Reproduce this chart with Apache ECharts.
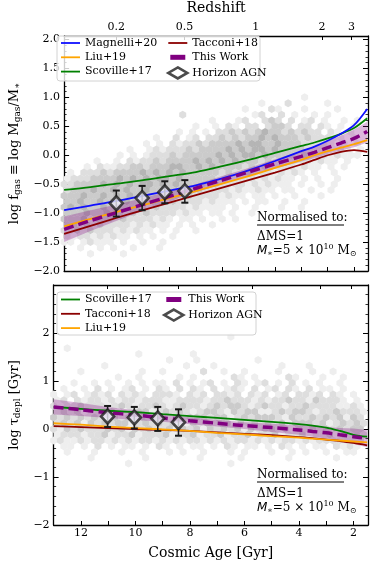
<!DOCTYPE html>
<html>
<head>
<meta charset="utf-8">
<script src="https://cdn.jsdelivr.net/npm/echarts@6/dist/echarts.min.js"></script>
<style>
html, body { margin: 0; padding: 0; background: #fff; }
#chart { width: 374px; height: 561px; }
</style>
</head>
<body>
<div id="chart"></div>
<script>
// cosmic age samples (Gyr) for the relations
var ages = [13, 12, 11, 10, 9, 8, 7, 6, 5, 4, 3.5, 3, 2.5, 2, 1.5];

// top panel: log f_gas
var fgasMagnelli = [-0.95, -0.87, -0.79, -0.70, -0.61, -0.52, -0.40, -0.26, -0.10, 0.07, 0.15, 0.25, 0.37, 0.52, 0.80];
var fgasLiu      = [-1.23, -1.10, -0.98, -0.86, -0.74, -0.62, -0.49, -0.36, -0.22, -0.08, 0.00, 0.07, 0.13, 0.19, 0.26];
var fgasScoville = [-0.60, -0.55, -0.49, -0.43, -0.36, -0.29, -0.19, -0.08, 0.04, 0.16, 0.22, 0.29, 0.37, 0.47, 0.64];
var fgasTacconi  = [-1.36, -1.22, -1.08, -0.95, -0.82, -0.69, -0.56, -0.43, -0.30, -0.16, -0.08, 0.00, 0.06, 0.09, 0.06];
var fgasThisWork = [-1.28, -1.13, -0.99, -0.85, -0.71, -0.57, -0.43, -0.29, -0.15, -0.02, 0.05, 0.13, 0.21, 0.29, 0.41];
var fgasBandLow  = [-1.50, -1.31, -1.13, -0.96, -0.80, -0.64, -0.50, -0.36, -0.23, -0.11, -0.05, 0.02, 0.08, 0.14, 0.22];
var fgasBandHigh = [-1.06, -0.95, -0.85, -0.74, -0.62, -0.50, -0.36, -0.22, -0.07, 0.07, 0.15, 0.24, 0.34, 0.44, 0.58];

// bottom panel: log tau_depl
var tdepScoville = [0.46, 0.42, 0.38, 0.35, 0.31, 0.27, 0.23, 0.19, 0.15, 0.10, 0.07, 0.03, -0.04, -0.12, -0.16];
var tdepTacconi  = [0.06, 0.04, 0.02, 0.00, -0.02, -0.04, -0.07, -0.10, -0.13, -0.17, -0.19, -0.22, -0.25, -0.29, -0.34];
var tdepLiu      = [0.12, 0.09, 0.05, 0.02, -0.01, -0.04, -0.08, -0.11, -0.15, -0.18, -0.20, -0.22, -0.24, -0.26, -0.28];
var tdepThisWork = [0.46, 0.40, 0.34, 0.29, 0.23, 0.17, 0.12, 0.07, 0.03, -0.02, -0.05, -0.08, -0.12, -0.16, -0.20];
var tdepBandLow  = [0.30, 0.27, 0.23, 0.19, 0.15, 0.10, 0.05, 0.00, -0.06, -0.12, -0.16, -0.20, -0.25, -0.31, -0.38];
var tdepBandHigh = [0.62, 0.54, 0.46, 0.39, 0.31, 0.24, 0.19, 0.14, 0.11, 0.08, 0.06, 0.04, 0.02, 0.01, -0.02];

// Horizon AGN
var agnAges    = [11.02, 10.04, 9.18, 8.42];
var agnFgas    = [-0.83, -0.74, -0.64, -0.62];
var agnFgasLo  = [-1.06, -0.95, -0.83, -0.82];
var agnFgasHi  = [-0.61, -0.53, -0.45, -0.43];
var agnTdep    = [0.26, 0.24, 0.22, 0.14];
var agnTdepLo  = [0.04, 0.01, -0.04, -0.14];
var agnTdepHi  = [0.48, 0.46, 0.46, 0.41];

// tick labels
var redshiftLabels = ['0.2', '0.5', '1', '2', '3'];
var redshiftAges   = [11.02, 8.43, 5.73, 3.22, 2.10];
var ageTicks       = [2, 3, 4, 5, 6, 7, 8, 9, 10, 11, 12, 13];
var ageLabels      = [2, 4, 6, 8, 10, 12];

// hexbin density (shade 1-4), rows listed from the highest value down
var hexTopRows = [
    '....................................1',
    '..............................1...2.....1',
    '...........................1...21...1....1',
    '..................2..........12..2.1..1.1',
    '......................1...12..232.2.12.1..1.1',
    '....................1..1.21.22.2332.22.21.1.1',
    '.................1.1.1.2232323433232322.21.1',
    '..............1..2.12.223232334343332322211.1',
    '............1.1.2122323333434433433322221.1.1',
    '..........1..1212223233334343443433332222121.1',
    '........1.1.122232333334343443433332322212111',
    '.....1..1.21223233334343434333232322221211.1',
    '...1.2112233233344334343333232322221211.1.1',
    '.1.2223233334343434333332322322212121.1..1',
    '12223333434343443433333232222121211.1.1..1',
    '22333343434344343433332322221212111.1..1.1',
    '23334334343343343332322221211211.11..1..1',
    '3334334343434333332322221211.11.1..1...1',
    '33433434343333323222212111.1.11..1..1',
    '3434334333333232222121111.1..1...1..1',
    '333433433232322221211.11.1..1',
    '33342333232222121.11.1..1.1',
    '3323232222121211.1.1..1',
    '22323222121211.1.1..1',
    '2122121211.1.1..1',
    '11.12111.1..1..1',
    '..1..1.1..1...1',
    '....1....1',
    '',
    ''
];
var hexBottomRows = [
    '..........................1',
    '',
    '..1',
    '............1.......1',
    '.................1...1........1',
    '.......1...........1...1.........1...1',
    '....1........1..1.....2..1..1....1....1..1',
    '.........1..1.....1.1.....21.1....21...1..1',
    '...1..1.1..1.1.11.2.1.12.1.21.12.1.2.1.1..1',
    '.1..1.2.1.12.1.21.2.21.2.121.2.12.21.2.11.1',
    '1.12.1212.2121.2221.212.2212.212.12.2212.21.1',
    '12.2122121221222112222122322212122322132221.1',
    '2122322212321223212322123233212322122322221121',
    '2323122331123312323212332132331123233212232221',
    '3232323213232323213233323312323332132232323132',
    '2323132323312323232132323313232323133323123232',
    '2132322232313232231323132323132332313232323233',
    '1222122312231222312231223122312231223122313232',
    '1211212212121221212122121212212121221212222222',
    '.11.1.2.1.11.1.21.1.11.1.21.11.1.21.1.11.2121',
    '..1...1...1..1...1.1..1...1.1...1..1.1..1..11',
    '.....1.......1.......1.....1......1......1',
    '...........1..............1'
];
var shadeColors = ['#ffffff', '#eeeeee', '#dedede', '#cbcbcb', '#b5b5b5'];

var FONT = 'DejaVu Serif';

function hexCells(rows, v0, dv) {
    var out = [];
    var n = rows.length;
    rows.forEach(function (row, i) {
        var r = n - 1 - i;
        for (var c = 0; c < row.length; c++) {
            var ch = row.charAt(c);
            if (ch === '.') continue;
            out.push([13 - 0.25 * c - (r % 2 ? 0.125 : 0), v0 + dv * r, +ch]);
        }
    });
    return out;
}

function pairs(vals) {
    return ages.map(function (a, i) { return [a, vals[i]]; });
}

function minus(s) { return String(s).replace('-', '\u2212'); }

var HEX = 'path://M0,-1L0.866,-0.5L0.866,0.5L0,1L-0.866,0.5L-0.866,-0.5Z';
var LINE_ICON = 'path://M0,0L21,0L21,2L0,2Z';
var DASH_ICON = 'path://M0,0M2,3L17,3L17,8L2,8ZM19,11';

function hexSeries(rows, v0, dv, xi, yi) {
    return {
        type: 'scatter', xAxisIndex: xi, yAxisIndex: yi, silent: true, z: 1,
        symbol: HEX, symbolSize: [7, 8],
        itemStyle: { color: function (p) { return shadeColors[p.value[2]]; }, opacity: 1 },
        data: hexCells(rows, v0, dv)
    };
}

function line(name, vals, color, xi, yi, extra) {
    var s = {
        name: name, type: 'line', xAxisIndex: xi, yAxisIndex: yi, z: 4,
        smooth: 0.3, symbol: 'none', silent: true,
        lineStyle: { color: color, width: 1.8 },
        itemStyle: { color: color },
        data: pairs(vals)
    };
    if (extra) for (var k in extra) s[k] = extra[k];
    return s;
}

// shaded uncertainty band of "This Work", drawn as one polygon in data coordinates
function band(lo, hi, xi, yi) {
    return {
        type: 'custom', xAxisIndex: xi, yAxisIndex: yi, z: 3, silent: true, clip: true,
        data: [[ages[0], lo[0]]],
        renderItem: function (params, api) {
            var pts = [];
            ages.forEach(function (a, i) { pts.push(api.coord([a, hi[i]])); });
            for (var i = ages.length - 1; i >= 0; i--) pts.push(api.coord([ages[i], lo[i]]));
            return {
                type: 'polygon', shape: { points: pts },
                style: { fill: 'rgba(128,0,128,0.28)' }
            };
        }
    };
}

function errorBars(lo, hi, xi, yi) {
    return {
        type: 'custom', xAxisIndex: xi, yAxisIndex: yi, z: 6, silent: true,
        data: agnAges.map(function (a, i) { return [a, lo[i], hi[i]]; }),
        renderItem: function (params, api) {
            var a = api.coord([api.value(0), api.value(1)]);
            var b = api.coord([api.value(0), api.value(2)]);
            var cap = 3.5;
            return {
                type: 'group', children: [
                    { type: 'line', shape: { x1: a[0], y1: a[1], x2: b[0], y2: b[1] }, style: { stroke: '#1a1a1a', lineWidth: 1.5 } },
                    { type: 'line', shape: { x1: a[0] - cap, y1: a[1], x2: a[0] + cap, y2: a[1] }, style: { stroke: '#1a1a1a', lineWidth: 2 } },
                    { type: 'line', shape: { x1: b[0] - cap, y1: b[1], x2: b[0] + cap, y2: b[1] }, style: { stroke: '#1a1a1a', lineWidth: 2 } }
                ]
            };
        }
    };
}

function agn(vals, xi, yi) {
    return {
        name: 'Horizon AGN', type: 'scatter', xAxisIndex: xi, yAxisIndex: yi, z: 7, silent: true,
        symbol: 'diamond', symbolSize: [13, 14],
        itemStyle: { color: '#ececf6', borderColor: '#1e1e1e', borderWidth: 2.6 },
        data: agnAges.map(function (a, i) { return [a, vals[i]]; })
    };
}

var axisLineStyle = { show: true, onZero: false, lineStyle: { color: '#000', width: 1.3 } };

function ageAxis(grid, pos, tickVals, labelVals, fmt, name) {
    return {
        type: 'value', gridIndex: grid, position: pos, min: 1.47, max: 13, inverse: true,
        axisLine: axisLineStyle,
        axisTick: { show: true, inside: true, length: 4, customValues: tickVals, lineStyle: { color: '#000', width: 1 } },
        axisLabel: labelVals ? {
            show: true, customValues: labelVals, margin: 3, color: '#000',
            fontFamily: FONT, fontSize: 11, formatter: fmt
        } : { show: false },
        splitLine: { show: false },
        name: name || '', nameLocation: 'middle', nameGap: 21,
        nameTextStyle: { fontFamily: FONT, fontSize: 14, color: '#000' }
    };
}

function valAxis(grid, pos, min, max, interval, dec, showLabels, name, rich) {
    return {
        type: 'value', gridIndex: grid, position: pos, min: min, max: max, interval: interval,
        axisLine: axisLineStyle,
        axisTick: { show: true, inside: true, length: 5, lineStyle: { color: '#000', width: 1 } },
        minorTick: { show: true, splitNumber: 5, length: 2.5, lineStyle: { color: '#000', width: 0.8 } },
        axisLabel: {
            show: showLabels, showMaxLabel: false, margin: 4, color: '#000',
            fontFamily: FONT, fontSize: 11,
            formatter: function (v) { return minus(v.toFixed(dec)); }
        },
        splitLine: { show: false },
        name: name || '', nameLocation: 'middle', nameRotate: 90, nameGap: 31,
        nameTextStyle: { fontFamily: FONT, fontSize: 13, color: '#000', rich: rich }
    };
}

var subRich = {
    n: { fontFamily: FONT, fontSize: 13, color: '#000', lineHeight: 16 },
    s: { fontFamily: FONT, fontSize: 9, color: '#000', lineHeight: 8, verticalAlign: 'bottom' }
};

var annRich = {
    n: { fontFamily: FONT, fontSize: 12, color: '#000', lineHeight: 15 },
    i: { fontFamily: 'DejaVu Sans', fontStyle: 'italic', fontSize: 12, color: '#000', lineHeight: 15 },
    s: { fontFamily: FONT, fontSize: 8, color: '#000', lineHeight: 7, verticalAlign: 'bottom' },
    p: { fontFamily: FONT, fontSize: 8, color: '#000', lineHeight: 7, verticalAlign: 'top' }
};

function annotation(top) {
    return [
        { type: 'text', left: 257, top: top, z: 10, style: { text: 'Normalised to:', font: '12px "DejaVu Serif"', fill: '#000' } },
        { type: 'line', z: 10, shape: { x1: 257, y1: top + 13, x2: 344, y2: top + 13 }, style: { stroke: '#000', lineWidth: 1 } },
        { type: 'text', left: 257, top: top + 19, z: 10, style: { text: '\u0394MS=1', font: '12px "DejaVu Serif"', fill: '#000' } },
        { type: 'text', left: 257, top: top + 31, z: 10, style: { text: '{i|M}{s|\u2217}{n|=5 \u00d7 10}{p|10}{n| M}{s|\u2299}', rich: annRich } }
    ];
}

var legendText = { fontFamily: FONT, fontSize: 11, color: '#000' };
function legend(left, top, names) {
    return {
        orient: 'vertical', left: left, top: top, padding: 0, itemGap: 3.3,
        itemWidth: 19, itemHeight: 11, selectedMode: false, z: 20,
        textStyle: legendText,
        data: names.map(function (n) {
            if (n === 'Horizon AGN') return { name: n, itemStyle: { color: '#fff', borderColor: '#1e1e1e', borderWidth: 2.6 } };
            if (n === 'This Work') return { name: n, icon: DASH_ICON };
            return { name: n, icon: LINE_ICON };
        })
    };
}

var chart = echarts.init(document.getElementById('chart'));
var option = {
    backgroundColor: '#fff',
    animation: false,
    grid: [
        { left: 52, top: 32, width: 316, height: 239 },
        { left: 52, top: 285, width: 316, height: 242 }
    ],
    xAxis: [
        ageAxis(0, 'bottom', ageTicks, null),
        ageAxis(0, 'top', redshiftAges, redshiftAges, function (v) {
            return redshiftLabels[redshiftAges.indexOf(v)];
        }, 'Redshift'),
        ageAxis(1, 'bottom', ageTicks, ageLabels, function (v) { return String(v); }, 'Cosmic Age [Gyr]'),
        ageAxis(1, 'top', redshiftAges, null)
    ],
    yAxis: [
        valAxis(0, 'left', -2, 2.06, 0.5, 1, true,
            '{n|log f}{s|gas}{n| \u2261 log M}{s|gas}{n|/M}{s|\u2217}', subRich),
        valAxis(0, 'right', -2, 2.06, 0.5, 1, false),
        valAxis(1, 'left', -2, 3, 1, 0, true, '{n|log \u03c4}{s|depl}{n| [Gyr]}', subRich),
        valAxis(1, 'right', -2, 3, 1, 0, false)
    ],
    legend: [
        legend(61, 37.5, ['Magnelli+20', 'Liu+19', 'Scoville+17']),
        legend(167, 37.5, ['Tacconi+18', 'This Work', 'Horizon AGN']),
        legend(61, 294, ['Scoville+17', 'Tacconi+18', 'Liu+19']),
        legend(163, 294, ['This Work', 'Horizon AGN'])
    ],
    graphic: [
        { type: 'rect', z: 10, shape: { x: 57, y: 36, width: 203, height: 45, r: 3 },
          style: { fill: 'rgba(255,255,255,0.8)', stroke: '#d2d2d2', lineWidth: 1 } },
        { type: 'rect', z: 10, shape: { x: 57, y: 292, width: 199, height: 43, r: 3 },
          style: { fill: 'rgba(255,255,255,0.8)', stroke: '#d2d2d2', lineWidth: 1 } }
    ].concat(annotation(212), annotation(469)),
    series: [
        hexSeries(hexTopRows, -1.9, 0.1, 0, 0),
        hexSeries(hexBottomRows, -0.72, 0.12, 2, 2),
        band(fgasBandLow, fgasBandHigh, 0, 0),
        line('Scoville+17', fgasScoville, '#008000', 0, 0),
        line('Magnelli+20', fgasMagnelli, '#1010ff', 0, 0),
        line('Tacconi+18', fgasTacconi, '#8b0000', 0, 0),
        line('Liu+19', fgasLiu, '#ffa500', 0, 0),
        line('This Work', fgasThisWork, '#800080', 0, 0, { z: 5, lineStyle: { color: '#800080', width: 3.5, type: [10, 5] } }),
        errorBars(agnFgasLo, agnFgasHi, 0, 0),
        agn(agnFgas, 0, 0),
        band(tdepBandLow, tdepBandHigh, 2, 2),
        line('Scoville+17', tdepScoville, '#008000', 2, 2),
        line('Tacconi+18', tdepTacconi, '#8b0000', 2, 2),
        line('Liu+19', tdepLiu, '#ffa500', 2, 2),
        line('This Work', tdepThisWork, '#800080', 2, 2, { z: 5, lineStyle: { color: '#800080', width: 3.5, type: [10, 5] } }),
        errorBars(agnTdepLo, agnTdepHi, 2, 2),
        agn(agnTdep, 2, 2)
    ]
};
chart.setOption(option);
</script>
</body>
</html>
